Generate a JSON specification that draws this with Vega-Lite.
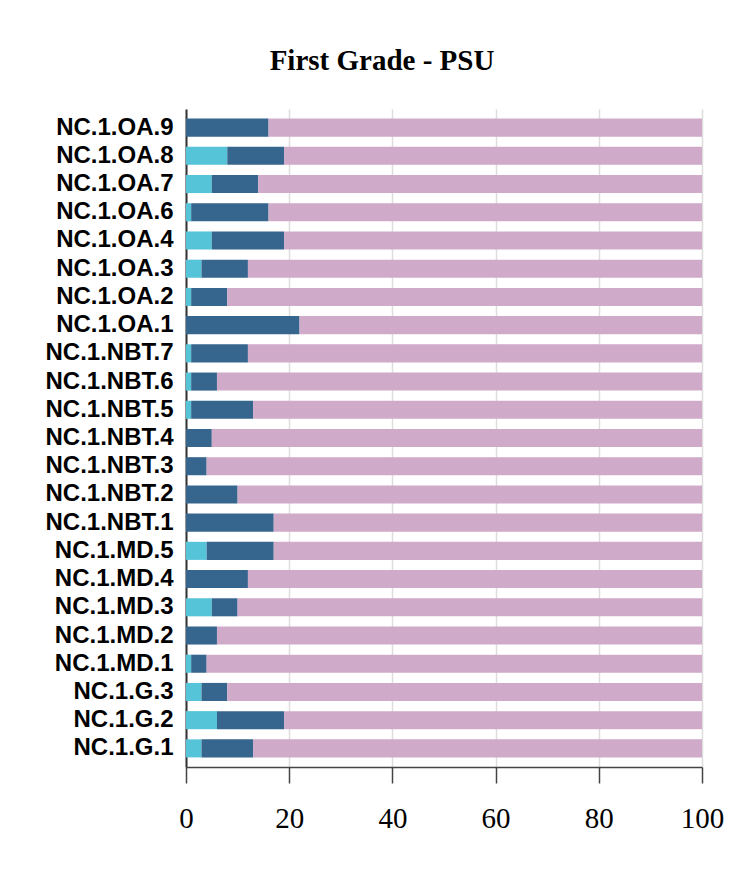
{
  "$schema": "https://vega.github.io/schema/vega-lite/v6.json",
  "width": 516,
  "height": 658,
  "autosize": {"type": "none"},
  "padding": {"left": 186, "top": 109, "right": 49, "bottom": 111},
  "background": "white",
  "title": {
    "text": "First Grade - PSU",
    "font": "Liberation Serif",
    "fontSize": 29,
    "fontWeight": "bold",
    "color": "black",
    "anchor": "middle",
    "baseline": "alphabetic",
    "offset": 10,
    "dx": -62
  },
  "data": {
    "values": [
      {"standard": "NC.1.OA.9", "level": "A", "rank": 1, "value": 0},
      {"standard": "NC.1.OA.9", "level": "B", "rank": 2, "value": 16},
      {"standard": "NC.1.OA.9", "level": "C", "rank": 3, "value": 84},
      {"standard": "NC.1.OA.8", "level": "A", "rank": 1, "value": 8},
      {"standard": "NC.1.OA.8", "level": "B", "rank": 2, "value": 11},
      {"standard": "NC.1.OA.8", "level": "C", "rank": 3, "value": 81},
      {"standard": "NC.1.OA.7", "level": "A", "rank": 1, "value": 5},
      {"standard": "NC.1.OA.7", "level": "B", "rank": 2, "value": 9},
      {"standard": "NC.1.OA.7", "level": "C", "rank": 3, "value": 86},
      {"standard": "NC.1.OA.6", "level": "A", "rank": 1, "value": 1},
      {"standard": "NC.1.OA.6", "level": "B", "rank": 2, "value": 15},
      {"standard": "NC.1.OA.6", "level": "C", "rank": 3, "value": 84},
      {"standard": "NC.1.OA.4", "level": "A", "rank": 1, "value": 5},
      {"standard": "NC.1.OA.4", "level": "B", "rank": 2, "value": 14},
      {"standard": "NC.1.OA.4", "level": "C", "rank": 3, "value": 81},
      {"standard": "NC.1.OA.3", "level": "A", "rank": 1, "value": 3},
      {"standard": "NC.1.OA.3", "level": "B", "rank": 2, "value": 9},
      {"standard": "NC.1.OA.3", "level": "C", "rank": 3, "value": 88},
      {"standard": "NC.1.OA.2", "level": "A", "rank": 1, "value": 1},
      {"standard": "NC.1.OA.2", "level": "B", "rank": 2, "value": 7},
      {"standard": "NC.1.OA.2", "level": "C", "rank": 3, "value": 92},
      {"standard": "NC.1.OA.1", "level": "A", "rank": 1, "value": 0},
      {"standard": "NC.1.OA.1", "level": "B", "rank": 2, "value": 22},
      {"standard": "NC.1.OA.1", "level": "C", "rank": 3, "value": 78},
      {"standard": "NC.1.NBT.7", "level": "A", "rank": 1, "value": 1},
      {"standard": "NC.1.NBT.7", "level": "B", "rank": 2, "value": 11},
      {"standard": "NC.1.NBT.7", "level": "C", "rank": 3, "value": 88},
      {"standard": "NC.1.NBT.6", "level": "A", "rank": 1, "value": 1},
      {"standard": "NC.1.NBT.6", "level": "B", "rank": 2, "value": 5},
      {"standard": "NC.1.NBT.6", "level": "C", "rank": 3, "value": 94},
      {"standard": "NC.1.NBT.5", "level": "A", "rank": 1, "value": 1},
      {"standard": "NC.1.NBT.5", "level": "B", "rank": 2, "value": 12},
      {"standard": "NC.1.NBT.5", "level": "C", "rank": 3, "value": 87},
      {"standard": "NC.1.NBT.4", "level": "A", "rank": 1, "value": 0},
      {"standard": "NC.1.NBT.4", "level": "B", "rank": 2, "value": 5},
      {"standard": "NC.1.NBT.4", "level": "C", "rank": 3, "value": 95},
      {"standard": "NC.1.NBT.3", "level": "A", "rank": 1, "value": 0},
      {"standard": "NC.1.NBT.3", "level": "B", "rank": 2, "value": 4},
      {"standard": "NC.1.NBT.3", "level": "C", "rank": 3, "value": 96},
      {"standard": "NC.1.NBT.2", "level": "A", "rank": 1, "value": 0},
      {"standard": "NC.1.NBT.2", "level": "B", "rank": 2, "value": 10},
      {"standard": "NC.1.NBT.2", "level": "C", "rank": 3, "value": 90},
      {"standard": "NC.1.NBT.1", "level": "A", "rank": 1, "value": 0},
      {"standard": "NC.1.NBT.1", "level": "B", "rank": 2, "value": 17},
      {"standard": "NC.1.NBT.1", "level": "C", "rank": 3, "value": 83},
      {"standard": "NC.1.MD.5", "level": "A", "rank": 1, "value": 4},
      {"standard": "NC.1.MD.5", "level": "B", "rank": 2, "value": 13},
      {"standard": "NC.1.MD.5", "level": "C", "rank": 3, "value": 83},
      {"standard": "NC.1.MD.4", "level": "A", "rank": 1, "value": 0},
      {"standard": "NC.1.MD.4", "level": "B", "rank": 2, "value": 12},
      {"standard": "NC.1.MD.4", "level": "C", "rank": 3, "value": 88},
      {"standard": "NC.1.MD.3", "level": "A", "rank": 1, "value": 5},
      {"standard": "NC.1.MD.3", "level": "B", "rank": 2, "value": 5},
      {"standard": "NC.1.MD.3", "level": "C", "rank": 3, "value": 90},
      {"standard": "NC.1.MD.2", "level": "A", "rank": 1, "value": 0},
      {"standard": "NC.1.MD.2", "level": "B", "rank": 2, "value": 6},
      {"standard": "NC.1.MD.2", "level": "C", "rank": 3, "value": 94},
      {"standard": "NC.1.MD.1", "level": "A", "rank": 1, "value": 1},
      {"standard": "NC.1.MD.1", "level": "B", "rank": 2, "value": 3},
      {"standard": "NC.1.MD.1", "level": "C", "rank": 3, "value": 96},
      {"standard": "NC.1.G.3", "level": "A", "rank": 1, "value": 3},
      {"standard": "NC.1.G.3", "level": "B", "rank": 2, "value": 5},
      {"standard": "NC.1.G.3", "level": "C", "rank": 3, "value": 92},
      {"standard": "NC.1.G.2", "level": "A", "rank": 1, "value": 6},
      {"standard": "NC.1.G.2", "level": "B", "rank": 2, "value": 13},
      {"standard": "NC.1.G.2", "level": "C", "rank": 3, "value": 81},
      {"standard": "NC.1.G.1", "level": "A", "rank": 1, "value": 3},
      {"standard": "NC.1.G.1", "level": "B", "rank": 2, "value": 10},
      {"standard": "NC.1.G.1", "level": "C", "rank": 3, "value": 87}
    ]
  },
  "mark": {"type": "bar"},
  "encoding": {
    "y": {
      "field": "standard",
      "type": "nominal",
      "sort": null,
      "scale": {"paddingInner": 0.36, "paddingOuter": 0.34},
      "axis": {
        "title": null,
        "ticks": false,
        "grid": false,
        "labelFont": "Liberation Sans",
        "labelFontWeight": "bold",
        "labelFontSize": 24,
        "labelColor": "black",
        "labelPadding": 13,
        "labelLimit": 300,
        "domainColor": "#333333",
        "domainWidth": 2
      }
    },
    "x": {
      "field": "value",
      "type": "quantitative",
      "stack": "zero",
      "scale": {"domain": [0, 100], "nice": false},
      "axis": {
        "title": null,
        "values": [0, 20, 40, 60, 80, 100],
        "labelFlush": false,
        "labelFont": "Liberation Serif",
        "labelFontSize": 29,
        "labelColor": "black",
        "labelPadding": 21,
        "tickSize": 16,
        "tickColor": "#444444",
        "tickWidth": 1.5,
        "domainColor": "#444444",
        "domainWidth": 1.5,
        "gridColor": "#dddddd",
        "gridWidth": 1.5
      }
    },
    "color": {
      "field": "level",
      "type": "nominal",
      "scale": {"domain": ["A", "B", "C"], "range": ["#55C4D8", "#36658D", "#CFAAC9"]},
      "legend": null
    },
    "order": {"field": "rank", "type": "quantitative"}
  },
  "config": {
    "view": {"stroke": null}
  }
}
